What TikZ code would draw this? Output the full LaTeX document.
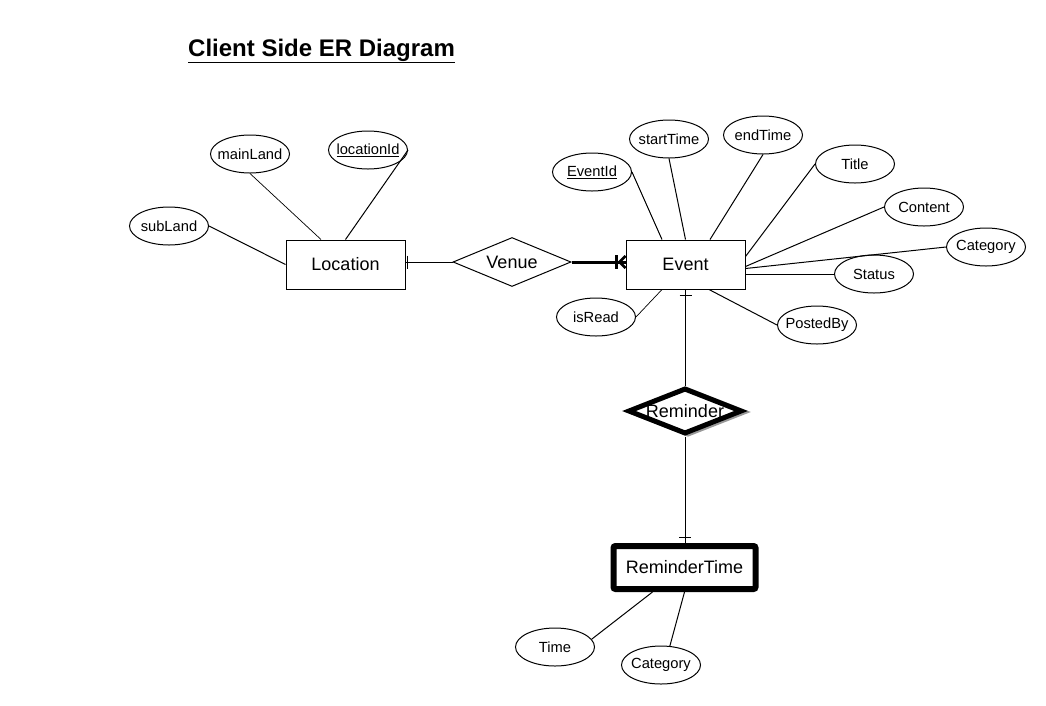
\documentclass[tikz,border=0pt]{standalone}
\usepackage{fontspec}
\setmainfont{Liberation Sans}
\usetikzlibrary{shapes.geometric}

\begin{document}
\begin{tikzpicture}[
        x=1pt, y=-1pt,
        entity/.style={draw, line width=1pt, minimum width=119pt, minimum height=49pt,
                       inner sep=0pt, font=\fontsize{18}{20}\selectfont},
        attr/.style={draw, ellipse, line width=1pt, minimum width=79pt, minimum height=38pt,
                     inner ysep=0pt, inner xsep=-10pt, font=\fontsize{14.7}{16}\selectfont},
        relation/.style={draw, diamond, line width=1pt, shape aspect=2.4,
                         minimum width=118pt, minimum height=49pt,
                         inner sep=0pt, font=\fontsize{18}{20}\selectfont},
        link/.style={line width=1pt},
        thinlink/.style={line width=0.7pt},
    ]
        \useasboundingbox (0,0) rectangle (1046,705);

        \node[anchor=base west, inner sep=0pt, font=\fontsize{24}{28}\selectfont\bfseries] (title) at (188,56)
            {\underline{Client Side ER Diagram}};

        \node[entity] (loc) at (345.5,264.5) {Location};
        \node[entity] (ev) at (685.5,264.5) {Event};
        \node[relation] (ven) at (512,262) {Venue};
        \node[relation, draw=black!40, line width=5pt, minimum width=114pt, minimum height=46pt] (remsh) at (688,412) {};
        \node[relation, line width=5pt, fill=white, minimum width=114pt, minimum height=46pt] (rem) at (685,411) {Reminder};
        \node[entity, line width=6pt, rounded corners=2pt, minimum width=142pt, minimum height=43pt] (rt) at (684.5,567.5) {ReminderTime};

        \node[attr] (sub) at (169,226) {subLand};
        \node[attr] (ml) at (250,154) {mainLand};
        \node[attr] (lid) at (368,150) {\underline{locationId}};
        \node[attr] (eid) at (592,172) {\underline{EventId}};
        \node[attr] (st) at (669,139) {startTime};
        \node[attr] (et) at (763,135) {endTime};
        \node[attr] (tt) at (855,164) {Title};
        \node[attr] (ct) at (924,207) {Content};
        \node[attr] (cat) at (986,247) {Category};
        \node[attr] (stat) at (874,274) {Status};
        \node[attr] (pb) at (817,325) {PostedBy};
        \node[attr] (ir) at (596,317) {isRead};
        \node[attr] (tm) at (555,647) {Time};
        \node[attr] (cat2) at (661,665) {Category};

        \draw[link] (sub.east) -- (loc.west);
        \draw[thinlink] (ml.south) -- ([xshift=-24.5pt]loc.north);
        \draw[link] (lid.east) -- (loc.north);

        \draw[link] (loc.east |- ven.west) -- (ven.west);
        \draw[link] ([xshift=1.5pt]loc.east |- ven.west) ++(0,-6.5) -- ++(0,13);
        \draw[line width=3pt] (ven.east) -- (ven.east -| ev.west);
        \draw[line width=3pt] ([xshift=-9pt]ev.west |- ven.east) ++(0,-7) -- ++(0,14);
        \draw[line width=2.5pt] ([yshift=6pt]ev.west |- ven.east) -- ([xshift=-6pt]ev.west |- ven.east)
            -- ([yshift=-6pt]ev.west |- ven.east);

        \draw[link] (eid.east) -- ([xshift=-23.5pt]ev.north);
        \draw[link] (st.south) -- (ev.north);
        \draw[link] (et.south) -- ([xshift=24.5pt]ev.north);
        \draw[link] (tt.west) -- ([yshift=8pt]ev.east);
        \draw[link] (ct.west) -- ([yshift=-2pt]ev.east);
        \draw[link] (cat.west) -- ([yshift=-4pt]ev.east);
        \draw[link] (stat.west) -- (stat.west -| ev.east);
        \draw[link] (pb.west) -- ([xshift=23.5pt]ev.south);
        \draw[thinlink] (ir.east) -- ([xshift=-23.5pt]ev.south);

        \draw[link] (ev.south) -- (ev.south |- rem.north);
        \draw[link] ([yshift=-5.5pt]ev.south) ++(-6,0) -- ++(12,0);
        \draw[link] (rem.south) -- (rem.south |- rt.north);
        \draw[link] ([yshift=6pt]rem.south |- rt.north) ++(-6,0) -- ++(12,0);

        \draw[link] ([xshift=-32pt]rt.south) -- (tm.12);
        \draw[link] (rt.south) -- (cat2.65);
\end{tikzpicture}
\end{document}
